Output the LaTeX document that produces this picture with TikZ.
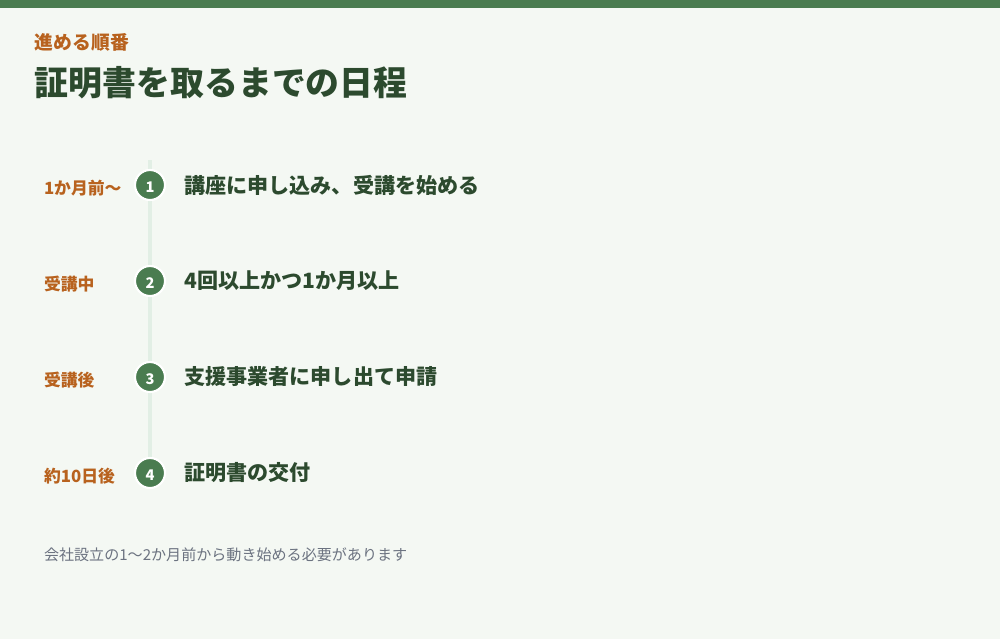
\documentclass[tikz,border=0pt]{standalone}
\usepackage{fontspec}
\setmainfont{Noto Sans CJK JP}
\usetikzlibrary{positioning}
\definecolor{bgpale}{RGB}{244,248,243}
\definecolor{bargreen}{RGB}{74,124,80}
\definecolor{darkgreen}{RGB}{44,74,46}
\definecolor{rust}{RGB}{184,98,30}
\definecolor{trackgreen}{RGB}{226,239,229}
\definecolor{notegray}{RGB}{107,114,128}
\newcommand{\dotnum}[1]{\raisebox{-1.6pt}[\height][\depth]{#1}}

\begin{document}
\begin{tikzpicture}[x=0.75pt,y=-0.75pt,node distance=72pt,inner sep=0pt,outer sep=0pt]
        \tikzstyle{stepdot}=[circle,fill=bargreen,draw=white,line width=1.6pt,minimum size=22.5pt,text=white,font=\bfseries\fontsize{11}{11}\selectfont]
        \tikzstyle{when}=[anchor=west,text=rust,font=\bfseries\fontsize{12.6}{13}\selectfont]
        \tikzstyle{what}=[text=darkgreen,font=\bfseries\fontsize{15.8}{16}\selectfont]

        \fill[bgpale] (0,0) rectangle (1000,639);
        \fill[bargreen] (0,0) rectangle (1000,8);
        \useasboundingbox (0,0) rectangle (1000,639);

        \node[anchor=west,text=rust,font=\bfseries\fontsize{14.1}{15}\selectfont] (kicker) at (35,42) {進める順番};
        \node[anchor=west,text=darkgreen,font=\bfseries\fontsize{25.4}{26}\selectfont] (title) at (35,83) {証明書を取るまでの日程};

        % track behind the dots
        \coordinate (top) at (150,160);
        \coordinate (bot) at (150,462);
        \draw[trackgreen,line width=3pt] (top) -- (bot);

        \node[stepdot]  (S1) at (150,185)     {\dotnum{1}};
        \node[stepdot]  (S2) [below of=S1]    {\dotnum{2}};
        \node[stepdot]  (S3) [below of=S2]    {\dotnum{3}};
        \node[stepdot]  (S4) [below of=S3]    {\dotnum{4}};

        \node[what] (T1) [right=14.6pt of S1] {講座に申し込み、受講を始める};
        \node[what] (T2) [right=14.6pt of S2] {4回以上かつ1か月以上};
        \node[what] (T3) [right=14.6pt of S3] {支援事業者に申し出て申請};
        \node[what] (T4) [right=14.6pt of S4] {証明書の交付};

        \node[when] (W1) at (44,188) {1か月前〜};
        \node[when] (W2) at (44,284) {受講中};
        \node[when] (W3) at (44,380) {受講後};
        \node[when] (W4) at (44,476) {約10日後};

        \node[anchor=west,text=notegray,font=\fontsize{11.3}{12}\selectfont] (note) at (44,555) {会社設立の1〜2か月前から動き始める必要があります};
\end{tikzpicture}
\end{document}
